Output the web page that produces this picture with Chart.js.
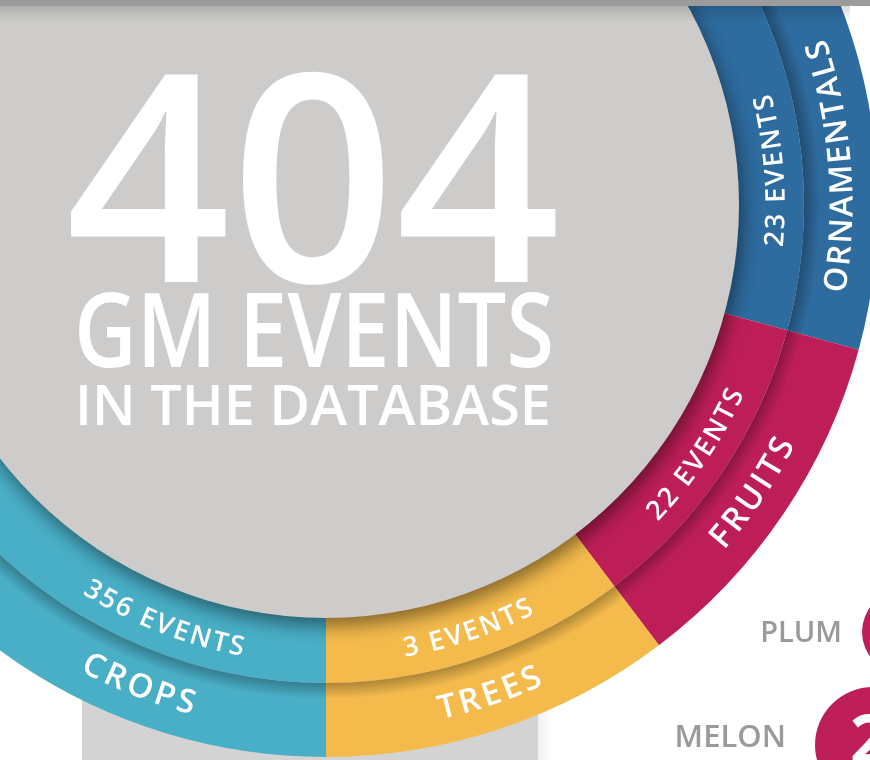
<!DOCTYPE html>
<html>
<head>
<meta charset="utf-8">
<script src="https://cdn.jsdelivr.net/npm/chart.js@4.4.1/dist/chart.umd.min.js"></script>
<style>
  html, body { margin: 0; padding: 0; background: #fff; }
  body { width: 870px; height: 760px; overflow: hidden; position: relative; }
  #grafico { position: absolute; left: -274px; top: -395px; }
</style>
</head>
<body>
<canvas id="grafico" width="1200" height="1200"></canvas>
<script>
const categorias = ["ORNAMENTALS", "FRUITS", "TREES", "CROPS"];
const eventos = [23, 22, 3, 356];
// share of the ring each sector takes in the picture (degrees), not proportional to the counts
const arcoGrados = [150.2, 37.7, 37.1, 135];
const colores = ["#2e6b9e", "#be1e57", "#f4bb4c", "#49afc7"];
const frutas = ["PLUM", "MELON"];
const frutasNumero = [null, 2];

// where each label sits on the visible part of the ring (degrees, clockwise from top)
const anguloEtiqueta = [85.6, 124, 161.5, 201.3];
const OX = 274, OY = 395; // page -> canvas offset
const FUENTE = '"Open Sans", "Noto Sans", sans-serif';

function textoEnArco(ctx, texto, cx, cy, r, grados, size, espacio, peso) {
  ctx.font = `${peso} ${size}px ${FUENTE}`;
  ctx.textAlign = "center";
  ctx.textBaseline = "alphabetic";
  const letras = [...texto];
  const anchos = letras.map(c => ctx.measureText(c).width);
  const total = anchos.reduce((a, b) => a + b, 0) + espacio * (letras.length - 1);
  let a = (grados - 90) * Math.PI / 180 + (total / 2) / r;
  const capH = size * 0.714;
  letras.forEach((c, i) => {
    const ac = a - (anchos[i] / 2) / r;
    ctx.save();
    ctx.translate(cx + r * Math.cos(ac), cy + r * Math.sin(ac));
    ctx.rotate(ac - Math.PI / 2);
    ctx.fillText(c, 0, capH / 2);
    ctx.restore();
    a -= (anchos[i] + espacio) / r;
  });
}

const decoracion = {
  id: "decoracion",
  beforeDatasetsDraw(chart) {
    const ctx = chart.ctx;
    ctx.save();
    ctx.translate(OX, OY);
    // light panel behind the bottom of the ring
    const sombra = ctx.createLinearGradient(536, 0, 552, 0);
    sombra.addColorStop(0, "rgba(0,0,0,0.07)");
    sombra.addColorStop(1, "rgba(0,0,0,0)");
    ctx.fillStyle = sombra;
    ctx.fillRect(536, 600, 16, 170);
    ctx.fillStyle = "#d3d3d3";
    ctx.fillRect(82, 600, 456, 170);
    ctx.restore();
  },
  afterDatasetsDraw(chart) {
    const ctx = chart.ctx;
    const arco = chart.getDatasetMeta(1).data[0];
    const cx = arco.x, cy = arco.y;
    const rIn = arco.innerRadius, rMid = arco.outerRadius;

    // inner ring casting a shadow on the outer ring
    ctx.save();
    const g = ctx.createRadialGradient(cx, cy, rMid, cx, cy, rMid + 16);
    g.addColorStop(0, "rgba(0,0,0,0.28)");
    g.addColorStop(1, "rgba(0,0,0,0)");
    ctx.beginPath();
    ctx.arc(cx, cy, rMid + 16, 0, Math.PI * 2);
    ctx.arc(cx, cy, rMid, 0, Math.PI * 2, true);
    ctx.fillStyle = g;
    ctx.fill();
    ctx.restore();

    // gray disc
    ctx.save();
    ctx.shadowColor = "rgba(0,0,0,0.45)";
    ctx.shadowBlur = 18;
    ctx.shadowOffsetX = 3;
    ctx.shadowOffsetY = 8;
    ctx.beginPath();
    ctx.arc(cx, cy, rIn + 1, 0, Math.PI * 2);
    ctx.fillStyle = "#cdcccb";
    ctx.fill();
    ctx.restore();

    // ring labels
    ctx.save();
    ctx.fillStyle = "#ffffff";
    categorias.forEach((cat, i) => {
      textoEnArco(ctx, `${eventos[i]} EVENTS`, cx, cy, 449, anguloEtiqueta[i], 27, 2, 600);
      const largo = cat.length > 8;
      textoEnArco(ctx, cat, cx, cy, 515, anguloEtiqueta[i], largo ? 32 : 33, largo ? 1.5 : 3, 600);
    });
    ctx.restore();

    ctx.save();
    ctx.translate(OX, OY);
    // headline
    const total = eventos.reduce((a, b) => a + b, 0);
    ctx.fillStyle = "#ffffff";
    ctx.textAlign = "center";
    ctx.textBaseline = "alphabetic";
    ctx.font = `650 290px ${FUENTE}`;
    ctx.fillText(String(total), 313, 282, 495);
    ctx.font = `600 103px ${FUENTE}`;
    ctx.fillText("GM EVENTS", 314, 367, 480);
    ctx.font = `600 56px ${FUENTE}`;
    ctx.fillText("IN THE DATABASE", 313, 425, 476);

    // strip along the top edge
    const tira = ctx.createLinearGradient(0, 6, 0, 22);
    tira.addColorStop(0, "rgba(0,0,0,0.14)");
    tira.addColorStop(1, "rgba(0,0,0,0)");
    ctx.fillStyle = tira;
    ctx.fillRect(0, 6, 850, 16);
    ctx.fillStyle = "#9b9b9b";
    ctx.fillRect(0, 0, 870, 6);

    // fruit list peeking in on the right
    const badges = [{ x: 904, y: 632, r: 42 }, { x: 873, y: 745, r: 58 }];
    ctx.fillStyle = colores[1];
    badges.forEach(b => {
      ctx.beginPath();
      ctx.arc(b.x, b.y, b.r, 0, Math.PI * 2);
      ctx.fill();
    });
    ctx.fillStyle = "#9a9a9a";
    ctx.textAlign = "right";
    ctx.font = `600 29px ${FUENTE}`;
    ctx.fillText(frutas[0], 842, 642);
    ctx.font = `600 31px ${FUENTE}`;
    ctx.fillText(frutas[1], 786, 747);
    ctx.fillStyle = "#ffffff";
    ctx.textAlign = "left";
    ctx.font = `700 66px ${FUENTE}`;
    ctx.fillText(String(frutasNumero[1]), 850, 763);
    ctx.restore();
  }
};

function crearGrafico() {
  new Chart(document.getElementById("grafico"), {
    type: "doughnut",
    data: {
      labels: categorias,
      datasets: [
        { data: arcoGrados, backgroundColor: colores, borderWidth: 0, weight: 74 },
        { data: arcoGrados, backgroundColor: colores, borderWidth: 0, weight: 66 }
      ]
    },
    options: {
      responsive: false,
      devicePixelRatio: 1,
      animation: false,
      events: [],
      rotation: -45,
      radius: 552,
      cutout: "74.64%",
      hoverOffset: 0,
      layout: { padding: 0 },
      plugins: { legend: { display: false }, tooltip: { enabled: false } }
    },
    plugins: [decoracion]
  });
}

Promise.all([
  document.fonts.load(`600 30px ${FUENTE}`),
  document.fonts.load(`650 30px ${FUENTE}`),
  document.fonts.load(`700 30px ${FUENTE}`)
]).then(crearGrafico, crearGrafico);
</script>
</body>
</html>
